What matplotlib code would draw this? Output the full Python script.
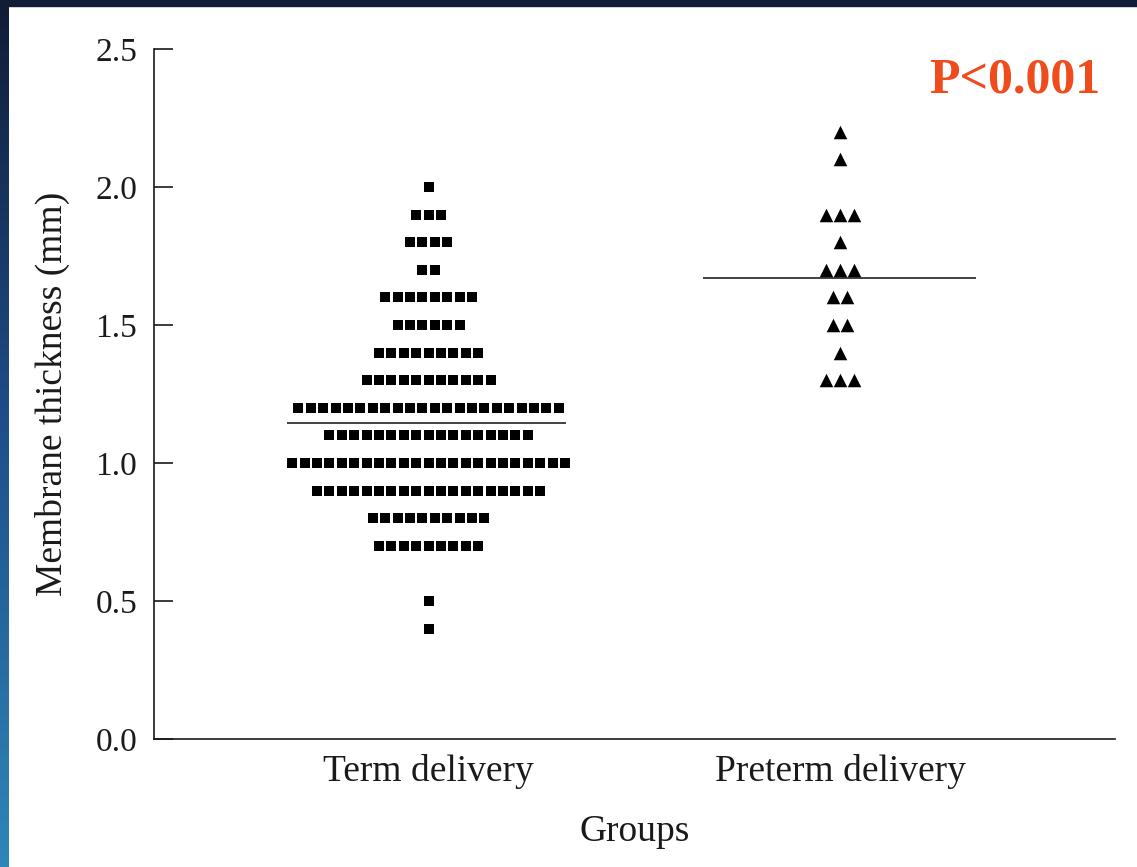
#!/usr/bin/env python3
"""
Dot plot of membrane thickness, term vs preterm delivery
"""

import numpy as np
from matplotlib import pyplot as plt
from matplotlib.patches import Rectangle
from matplotlib.colors import LinearSegmentedColormap

# Data: thickness level -> number of women at that level
groups = ["Term delivery", "Preterm delivery"]

term_levels = [2.0, 1.9, 1.8, 1.7, 1.6, 1.5, 1.4, 1.3, 1.2, 1.1, 1.0, 0.9, 0.8, 0.7, 0.5, 0.4]
term_counts = [1, 3, 4, 2, 8, 6, 9, 11, 22, 17, 23, 19, 10, 9, 1, 1]

preterm_levels = [2.2, 2.1, 1.9, 1.8, 1.7, 1.6, 1.5, 1.4, 1.3]
preterm_counts = [1, 1, 3, 1, 3, 2, 2, 1, 3]

yticks = [0.0, 0.5, 1.0, 1.5, 2.0, 2.5]
p_text = "P<0.001"

plt.rcParams["font.family"] = ["Liberation Serif", "DejaVu Serif"]


def spread(levels, counts, centre, step):
    xs, ys = [], []
    for lev, n in zip(levels, counts):
        offs = (np.arange(n) - (n - 1) / 2.0) * step
        xs.extend(centre + offs)
        ys.extend([lev] * n)
    return np.array(xs), np.array(ys)


if __name__ == "__main__":

    fig = plt.figure(figsize=(11.37, 8.67), dpi=100)
    fig.patch.set_facecolor("white")

    # slide frame: dark band top, gradient strip left
    fig.patches.append(Rectangle((0, 1 - 6 / 867), 1, 6 / 867, transform=fig.transFigure,
                                 color="#111c36", zorder=0))
    gax = fig.add_axes([0, 0, 9 / 1137, 1])
    grad = np.linspace(0, 1, 256).reshape(-1, 1)
    cm = LinearSegmentedColormap.from_list("edge", ["#2f86b8", "#1f4f8c", "#111c36"])
    gax.imshow(grad, aspect="auto", cmap=cm, origin="lower")
    gax.axis("off")

    ax = fig.add_axes([154 / 1137, 128 / 867, 961 / 1137, 690 / 867])

    xt, yt = spread(term_levels, term_counts, 1.0, 0.0301)
    xp, yp = spread(preterm_levels, preterm_counts, 2.0, 0.034)

    ax.scatter(xt, yt, marker="s", s=55, c="black", linewidths=0, zorder=3)
    ax.scatter(xp, yp, marker="^", s=95, c="black", linewidths=0, zorder=3)

    term_mean = np.sum(np.array(term_levels) * np.array(term_counts)) / np.sum(term_counts)
    pre_mean = np.sum(np.array(preterm_levels) * np.array(preterm_counts)) / np.sum(preterm_counts)
    ax.hlines(term_mean, 0.657, 1.334, color="#333333", lw=1.3, zorder=2)
    ax.hlines(pre_mean, 1.667, 2.330, color="#333333", lw=1.3, zorder=2)

    ax.set_xlim(1 / 3, 8 / 3)
    ax.set_ylim(0, 2.5)
    ax.set_yticks(yticks)
    ax.set_yticklabels(["%.1f" % v for v in yticks])
    ax.set_xticks([1, 2])
    ax.set_xticklabels(groups)

    ax.spines["top"].set_visible(False)
    ax.spines["right"].set_visible(False)
    for s in ["left", "bottom"]:
        ax.spines[s].set_linewidth(1.2)
        ax.spines[s].set_color("#1a1a1a")

    ax.tick_params(axis="y", direction="in", length=14, width=1.2, pad=12,
                   labelsize=24, colors="#1a1a1a")
    ax.tick_params(axis="x", length=0, pad=11, labelsize=27, colors="#1a1a1a")

    ax.set_xlabel("Groups", fontsize=27, color="#1a1a1a", labelpad=18)
    ax.set_ylabel("Membrane thickness (mm)", fontsize=27, color="#1a1a1a", labelpad=18)

    ax.text(0.985, 0.955, p_text, transform=ax.transAxes, ha="right", va="center",
            fontsize=36, fontweight="bold", color="#f04b1c")

    plt.savefig("out.png", dpi=100)
    plt.close()
